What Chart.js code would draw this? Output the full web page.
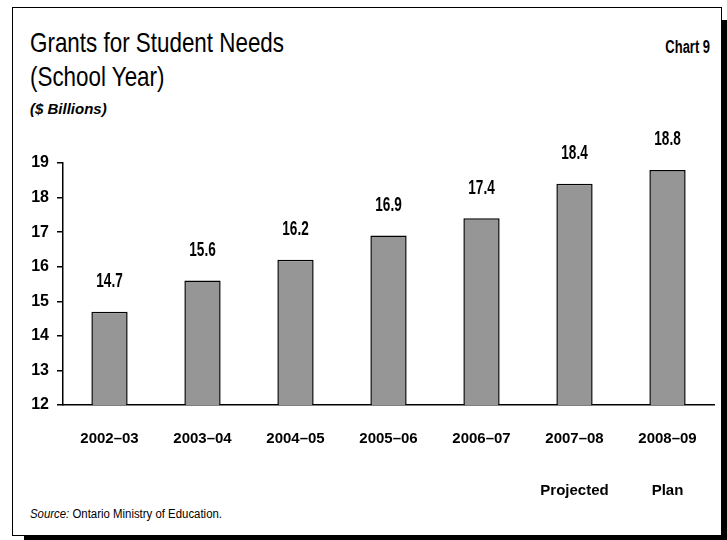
<!DOCTYPE html>
<html>
<head>
<meta charset="utf-8">
<script src="https://cdn.jsdelivr.net/npm/chart.js@4.4.1/dist/chart.umd.min.js"></script>
<style>
    body { margin: 0; background: #fff; }
    #page { position: relative; width: 727px; height: 540px; overflow: hidden; font-family: "Liberation Sans", Arial, sans-serif; }
    #frame { position: absolute; left: 12px; top: 7px; width: 710px; height: 529px; box-sizing: border-box; border: 1.5px solid #000; }
    .shadow { position: absolute; background: #000; }
    .txt { position: absolute; white-space: nowrap; color: #000; }
    #title { left: 30px; top: 26px; font-size: 28px; line-height: 34px; transform: scaleX(0.8); transform-origin: left top; }
    #chartNo { right: 17px; top: 37px; font-size: 18px; font-weight: bold; transform: scaleX(0.72); transform-origin: right top; }
    #units { left: 30px; top: 100px; font-size: 15px; font-weight: bold; font-style: italic; }
    #source { left: 30px; top: 507px; font-size: 12px; transform: scaleX(0.95); transform-origin: left top; }
    canvas { position: absolute; left: 0; top: 0; }
</style>
</head>
<body>
<div id="page">
    <div id="frame"></div>
    <div class="shadow" style="left:722px; top:20px; width:5px; height:520px;"></div>
    <div class="shadow" style="left:24px; top:536px; width:703px; height:4px;"></div>
    <div class="txt" id="title">Grants for Student Needs<br>(School Year)</div>
    <div class="txt" id="chartNo">Chart 9</div>
    <div class="txt" id="units">($ Billions)</div>
    <div class="txt" id="source"><i>Source:</i> Ontario Ministry of Education.</div>
    <canvas id="grantsChart" width="727" height="540"></canvas>
</div>
<script>
// Data
const years = ['2002–03', '2003–04', '2004–05', '2005–06', '2006–07', '2007–08', '2008–09'];
const notes = ['', '', '', '', '', 'Projected', 'Plan'];
const grants = [14.7, 15.6, 16.2, 16.9, 17.4, 18.4, 18.8];
const yMin = 12;
const yMax = 19;

const labels = years.map((y, i) => notes[i] ? [y, notes[i]] : [y]);

// value labels above bars (condensed look via horizontal scale)
const valueLabels = {
    id: 'valueLabels',
    afterDatasetsDraw(chart) {
        const ctx = chart.ctx;
        const meta = chart.getDatasetMeta(0);
        const sx = 0.68;
        ctx.save();
        ctx.font = 'bold 20px "Liberation Sans", Arial, sans-serif';
        ctx.fillStyle = '#000';
        ctx.textAlign = 'center';
        ctx.textBaseline = 'middle';
        meta.data.forEach((bar, i) => {
            ctx.save();
            ctx.translate(bar.x, bar.y - 30);
            ctx.scale(sx, 1);
            ctx.fillText(grants[i].toFixed(1), 0, 0);
            ctx.restore();
        });
        ctx.restore();
    }
};

const ctx = document.getElementById('grantsChart').getContext('2d');
new Chart(ctx, {
    type: 'bar',
    data: {
        labels: labels,
        datasets: [{
            data: grants,
            backgroundColor: '#969696',
            borderColor: '#000',
            borderWidth: 1.5,
            borderSkipped: false,
            barPercentage: 0.39,
            categoryPercentage: 1
        }]
    },
    options: {
        responsive: false,
        animation: false,
        layout: { padding: { left: 0, top: 163, right: 13, bottom: 0 } },
        plugins: { legend: { display: false }, tooltip: { enabled: false } },
        scales: {
            x: {
                grid: { display: false },
                border: { display: true, color: '#000', width: 1.5 },
                ticks: {
                    color: '#000',
                    padding: 0,
                    maxRotation: 0,
                    font: { family: '"Liberation Sans", Arial, sans-serif', size: 15, weight: 'bold', lineHeight: '52px' }
                },
                afterFit: s => { s.height = 135; }
            },
            y: {
                min: yMin,
                max: yMax,
                grid: { drawOnChartArea: false, drawTicks: true, tickLength: 6, color: '#000', lineWidth: 1.5 },
                border: { display: true, color: '#000', width: 1.5 },
                ticks: {
                    stepSize: 1,
                    color: '#000',
                    padding: 8,
                    font: { family: '"Liberation Sans", Arial, sans-serif', size: 16, weight: 'bold' }
                },
                afterFit: s => { s.width = 63; }
            }
        }
    },
    plugins: [valueLabels]
});
</script>
</body>
</html>
